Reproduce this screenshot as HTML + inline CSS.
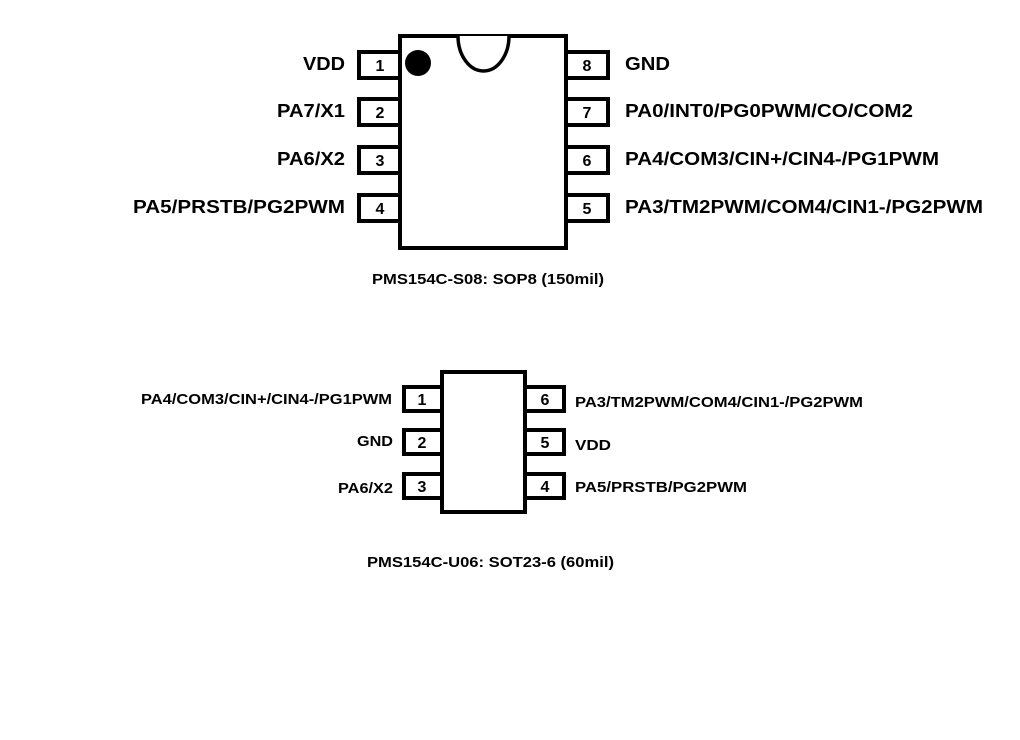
<!DOCTYPE html>
<html><head><meta charset="utf-8"><style>
html,body{margin:0;padding:0;background:#fff;width:1020px;height:740px;overflow:hidden}
text{font-family:"Liberation Sans",Arial,sans-serif;font-weight:bold;fill:#000}
</style></head><body>
<svg width="1020" height="740" viewBox="0 0 1020 740" xmlns="http://www.w3.org/2000/svg">
<g fill="#fff" stroke="#000" stroke-width="4">
<rect x="400" y="36" width="166" height="212"/>
<rect x="359" y="52" width="41" height="26"/>
<rect x="359" y="99" width="41" height="26"/>
<rect x="359" y="147" width="41" height="26"/>
<rect x="359" y="195" width="41" height="26"/>
<rect x="566" y="52" width="42" height="26"/>
<rect x="566" y="99" width="42" height="26"/>
<rect x="566" y="147" width="42" height="26"/>
<rect x="566" y="195" width="42" height="26"/>
<path d="M458 36 A25.5 35 0 0 0 509 36" stroke-width="3.5"/>
<rect x="442" y="372" width="83" height="140"/>
<rect x="404" y="387" width="38" height="24"/>
<rect x="404" y="430" width="38" height="24"/>
<rect x="404" y="474" width="38" height="24"/>
<rect x="525" y="387" width="39" height="24"/>
<rect x="525" y="430" width="39" height="24"/>
<rect x="525" y="474" width="39" height="24"/>
</g>
<circle cx="418" cy="63" r="13" fill="#000"/>
<g font-size="16" text-anchor="middle">
<text x="380" y="71">1</text><text x="380" y="118">2</text><text x="380" y="166">3</text><text x="380" y="214">4</text>
<text x="587" y="71">8</text><text x="587" y="118">7</text><text x="587" y="166">6</text><text x="587" y="214">5</text>
<text x="422" y="405">1</text><text x="422" y="448">2</text><text x="422" y="492">3</text>
<text x="545" y="405">6</text><text x="545" y="448">5</text><text x="545" y="492">4</text>
</g>
<g font-size="18" lengthAdjust="spacingAndGlyphs">
<text x="303" y="70" textLength="42" lengthAdjust="spacingAndGlyphs">VDD</text>
<text x="277" y="117" textLength="68" lengthAdjust="spacingAndGlyphs">PA7/X1</text>
<text x="277" y="165" textLength="68" lengthAdjust="spacingAndGlyphs">PA6/X2</text>
<text x="133" y="213" textLength="212" lengthAdjust="spacingAndGlyphs">PA5/PRSTB/PG2PWM</text>
<text x="625" y="70" textLength="45" lengthAdjust="spacingAndGlyphs">GND</text>
<text x="625" y="117" textLength="288" lengthAdjust="spacingAndGlyphs">PA0/INT0/PG0PWM/CO/COM2</text>
<text x="625" y="165" textLength="314" lengthAdjust="spacingAndGlyphs">PA4/COM3/CIN+/CIN4-/PG1PWM</text>
<text x="625" y="213" textLength="358" lengthAdjust="spacingAndGlyphs">PA3/TM2PWM/COM4/CIN1-/PG2PWM</text>
</g>
<g font-size="15">
<text x="372" y="284" textLength="232" lengthAdjust="spacingAndGlyphs">PMS154C-S08: SOP8 (150mil)</text>
<text x="367" y="567" textLength="247" lengthAdjust="spacingAndGlyphs">PMS154C-U06: SOT23-6 (60mil)</text>
<text x="141" y="404" textLength="251" lengthAdjust="spacingAndGlyphs">PA4/COM3/CIN+/CIN4-/PG1PWM</text>
<text x="357" y="446" textLength="36" lengthAdjust="spacingAndGlyphs">GND</text>
<text x="338" y="493" textLength="55" lengthAdjust="spacingAndGlyphs">PA6/X2</text>
<text x="575" y="407" textLength="288" lengthAdjust="spacingAndGlyphs">PA3/TM2PWM/COM4/CIN1-/PG2PWM</text>
<text x="575" y="450" textLength="36" lengthAdjust="spacingAndGlyphs">VDD</text>
<text x="575" y="492" textLength="172" lengthAdjust="spacingAndGlyphs">PA5/PRSTB/PG2PWM</text>
</g>
</svg>
</body></html>
